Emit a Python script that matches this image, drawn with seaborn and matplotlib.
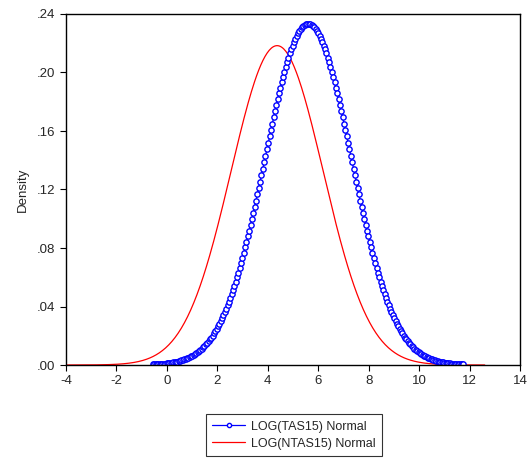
import matplotlib
matplotlib.use("Agg")
import matplotlib.pyplot as plt
import seaborn as sns
import numpy as np
import pandas as pd

# ---data---
series_names = ["LOG(TAS15) Normal", "LOG(NTAS15) Normal"]
series_means = [5.60, 4.37]
series_sds = [1.711, 1.827]
series_lo = [-0.55, -3.95]
series_hi = [11.75, 12.6]
series_npts = [230, 400]

x_ticks = [-4, -2, 0, 2, 4, 6, 8, 10, 12, 14]
y_ticks = [0.00, 0.04, 0.08, 0.12, 0.16, 0.20, 0.24]
y_tick_labels = [".00", ".04", ".08", ".12", ".16", ".20", ".24"]

# theoretical normal densities for each series
frames = []
for name, mu, sd, lo, hi, n in zip(series_names, series_means, series_sds,
                                   series_lo, series_hi, series_npts):
    x = np.linspace(lo, hi, n)
    dens = np.exp(-0.5 * ((x - mu) / sd) ** 2) / (sd * np.sqrt(2 * np.pi))
    frames.append(pd.DataFrame({"x": x, "Density": dens, "series": name}))
df = pd.concat(frames, ignore_index=True)

sns.set_style("white")
plt.rcParams['font.family'] = ['Liberation Sans', 'DejaVu Sans']
plt.rcParams['axes.unicode_minus'] = False

fig = plt.figure(figsize=(5.28, 4.61), dpi=100)
ax = fig.add_axes([66/528, 96/461, 454/528, 351/461])

sns.lineplot(data=df[df.series == series_names[1]], x="x", y="Density",
             color="#ff0000", lw=0.9, ax=ax, label=series_names[1])
sns.lineplot(data=df[df.series == series_names[0]], x="x", y="Density",
             color="#0000ff", lw=0.9, marker="o", markersize=3.8,
             markerfacecolor="white", markeredgecolor="#0000ff",
             markeredgewidth=1.0, ax=ax, label=series_names[0])

ax.set_xlim(-4, 14)
ax.set_ylim(0, 0.24)
ax.set_xticks(x_ticks)
ax.set_yticks(y_ticks)
ax.set_yticklabels(y_tick_labels)
ax.set_xlabel("")
ax.set_ylabel("Density", fontsize=9.5, labelpad=6)
ax.tick_params(axis='both', direction='out', length=4, width=0.8,
               labelsize=9.5, color='black', left=True, bottom=True)
for s in ax.spines.values():
    s.set_color('black')
    s.set_linewidth(1.0)

handles, labels = ax.get_legend_handles_labels()
order = [labels.index(series_names[0]), labels.index(series_names[1])]
leg = fig.legend([handles[i] for i in order], [labels[i] for i in order],
                 loc='center', bbox_to_anchor=(294/528, 1 - 435/461),
                 frameon=True, fancybox=False, fontsize=9, handlelength=2.6,
                 numpoints=1, markerscale=0.8, borderpad=0.5,
                 labelspacing=0.4, handletextpad=0.5)
leg.get_frame().set_edgecolor('black')
leg.get_frame().set_linewidth(0.8)
ax.get_legend().remove()

fig.savefig("out.png", dpi=100)
